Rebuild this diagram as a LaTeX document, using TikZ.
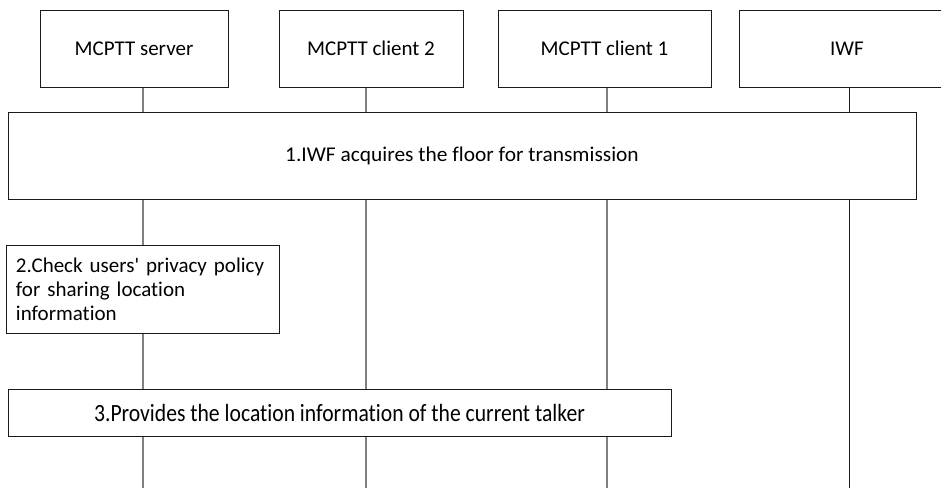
\documentclass[tikz,border=0pt]{standalone}
\usepackage{fontspec}
\setmainfont[Ligatures={NoCommon}]{Carlito}
\usetikzlibrary{positioning, calc, backgrounds}
\definecolor{cline}{HTML}{1A1A1A}
\definecolor{cgrey}{HTML}{808080}
\tikzset{
  every picture/.style={font=\fontsize{21}{24}\selectfont, line width=1pt},
  entity/.style={draw=cline, fill=white, minimum width=#1, minimum height=77pt, inner sep=0pt},
  stepbox/.style={draw=cline, fill=white, inner sep=0pt, align=center},
  lifeline/.style={draw=cgrey, line width=1.3pt},
}

\begin{document}
\begin{tikzpicture}[x=1pt, y=-1pt]
  \useasboundingbox (0,0) rectangle (941,488);
  % entities
  \node[entity=188pt] (srv) at (134,48.5) {MCPTT server};
  \node[entity=184pt] (cl2) at (371,48.5) {MCPTT client 2};
  \node[entity=213pt] (cl1) at (604.5,48.5) {MCPTT client 1};
  \node[entity=216pt] (iwf) at (847,48.5) {IWF};
  % lifeline ends
  \coordinate (srvend) at (143,488);
  \coordinate (cl2end) at (366,488);
  \coordinate (cl1end) at (607,488);
  \coordinate (iwfend) at (849,488);
  % steps
  \node[stepbox, minimum width=908pt, minimum height=87pt] (s1) at (462,155.5) {\scalebox{1.02}[1]{1.IWF acquires the floor for transmission}};
  \node[stepbox, minimum height=88pt, text width=253pt, inner xsep=10pt, align=left] (s2) at (142.5,289) {2.Check users\textquotesingle{} privacy policy\\for sharing location\\information};
  \node[stepbox, minimum width=663pt, minimum height=47pt] (s3) at (339.5,412.5) {\scalebox{1.03}[1.18]{3.Provides the location information of the current talker}};
  \begin{scope}[on background layer]
    \draw[lifeline] (srvend |- srv.south) -- (srvend);
    \draw[lifeline] (cl2end |- cl2.south) -- (cl2end);
    \draw[lifeline] (cl1end |- cl1.south) -- (cl1end);
    \draw[lifeline, draw=cline, line width=1pt] (iwfend |- iwf.south) -- (iwfend);
  \end{scope}
\end{tikzpicture}
\end{document}
